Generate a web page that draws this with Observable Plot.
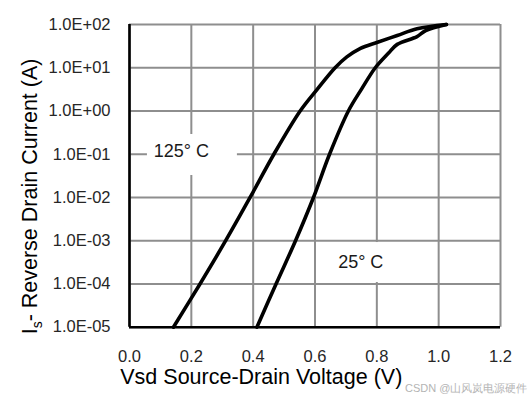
<!DOCTYPE html>
<html>
<head>
<meta charset="utf-8">
<script src="https://cdn.jsdelivr.net/npm/d3@7"></script>
<script src="https://cdn.jsdelivr.net/npm/@observablehq/plot@0.6"></script>
<style>
  html, body { margin: 0; padding: 0; background: white; }
</style>
</head>
<body>
<div id="chart"></div>
<script>
// Data
const v125 = [0.142, 0.228, 0.311, 0.390, 0.467, 0.552, 0.607, 0.665, 0.703, 0.747, 0.800, 0.866, 0.930, 1.025];
const i125 = [1e-5, 1e-4, 1e-3, 1e-2, 0.1, 1, 3.16, 10, 17.8, 28.2, 38.5, 55.6, 79.4, 100];
const v25  = [0.412, 0.474, 0.537, 0.595, 0.647, 0.708, 0.750, 0.795, 0.838, 0.866, 0.930, 0.958, 1.025];
const i25  = [1e-5, 1e-4, 1e-3, 1e-2, 0.1, 1, 3.16, 10, 21.9, 34.7, 52.5, 72.4, 100];

const xTicks = [0, 0.2, 0.4, 0.6, 0.8, 1.0, 1.2];
const xTickLabels = ["0.0", "0.2", "0.4", "0.6", "0.8", "1.0", "1.2"];
const yTicks = [1e-5, 1e-4, 1e-3, 1e-2, 1e-1, 1e0, 1e1, 1e2];
const yTickLabels = ["1.0E-05", "1.0E-04", "1.0E-03", "1.0E-02", "1.0E-01", "1.0E+00", "1.0E+01", "1.0E+02"];

// Curve labels and their white backing boxes (data units)
const labelText = ["125° C", "25° C"];
const labelV = [0.168, 0.748];
const labelI = [0.1175, 3.25e-4];
const boxV1 = [0.058, 0.65];
const boxV2 = [0.349, 0.941];
const boxI1 = [0.0322, 1.08e-4];
const boxI2 = [0.286, 9.08e-4];

const xTitle = "Vsd Source-Drain Voltage (V)";
const yTitle = "Is- Reverse Drain Current (A)";
const watermark = "CSDN @山风岚电源硬件";

const curves = [
  ...v125.map((v, k) => ({series: "125", v, i: i125[k]})),
  ...v25.map((v, k) => ({series: "25", v, i: i25[k]}))
];
const labels = labelText.map((t, k) => ({t, v: labelV[k], i: labelI[k]}));
const boxes = boxV1.map((v1, k) => ({v1, v2: boxV2[k], i1: boxI1[k], i2: boxI2[k]}));

const gridColor = "#8e8e8e";
const tickColor = "#262626";

const svg = Plot.plot({
  width: 531,
  height: 403,
  marginLeft: 129,
  marginRight: 31,
  marginTop: 24,
  marginBottom: 76.3,
  style: {fontFamily: "'Liberation Sans', Arial, sans-serif", fontSize: "16.5px", background: "white", overflow: "visible"},
  x: {domain: [0, 1.2]},
  y: {type: "log", domain: [1e-5, 1e2]},
  marks: [
    Plot.gridX(xTicks, {stroke: gridColor, strokeOpacity: 1, strokeWidth: 2}),
    Plot.gridY(yTicks, {stroke: gridColor, strokeOpacity: 1, strokeWidth: 2}),
    Plot.rect(boxes, {x1: "v1", x2: "v2", y1: "i1", y2: "i2", fill: "white"}),
    Plot.text(labels, {x: "v", y: "i", text: "t", fontSize: 18, fill: "#1a1a1a"}),
    Plot.ruleX([0], {stroke: "black", strokeWidth: 2.6}),
    Plot.ruleY([1e-5], {stroke: "black", strokeWidth: 2.6}),
    Plot.line(curves, {x: "v", y: "i", z: "series", stroke: "black", strokeWidth: 3.6, curve: "catmull-rom"}),
    Plot.axisX(xTicks, {tickSize: 0, tickPadding: 23, fontSize: 16.5, fill: tickColor,
      tickFormat: d => xTickLabels[xTicks.indexOf(d)], label: null}),
    Plot.axisY(yTicks, {tickSize: 0, tickPadding: 19, fontSize: 16.5, fill: tickColor,
      tickFormat: d => yTickLabels[yTicks.indexOf(d)], label: null}),
    Plot.text([xTitle], {text: d => d, frameAnchor: "bottom", textAnchor: "middle", dx: -53.7, dy: 56.4, fontSize: 21.5, fill: "black"}),
    Plot.text([yTitle], {text: d => d, frameAnchor: "left", textAnchor: "middle", rotate: -90, dx: -99.5, dy: 20.6, fontSize: 21.5, fill: "black"}),
    Plot.text([watermark], {text: d => d, frameAnchor: "bottom-right", textAnchor: "end", dx: 27, dy: 64.5, fontSize: 11, fill: "#b4b4b4"})
  ]
});

// Subscript "s" in the y-axis title
d3.select(svg).selectAll("text").filter(function() { return this.textContent === yTitle; })
  .each(function() {
    const t = d3.select(this);
    t.text(null);
    t.append("tspan").text("I");
    t.append("tspan").text("s").attr("font-size", 14).attr("dy", 5);
    t.append("tspan").text("- Reverse Drain Current (A)").attr("dy", -5);
  });

document.getElementById("chart").appendChild(svg);
</script>
</body>
</html>
